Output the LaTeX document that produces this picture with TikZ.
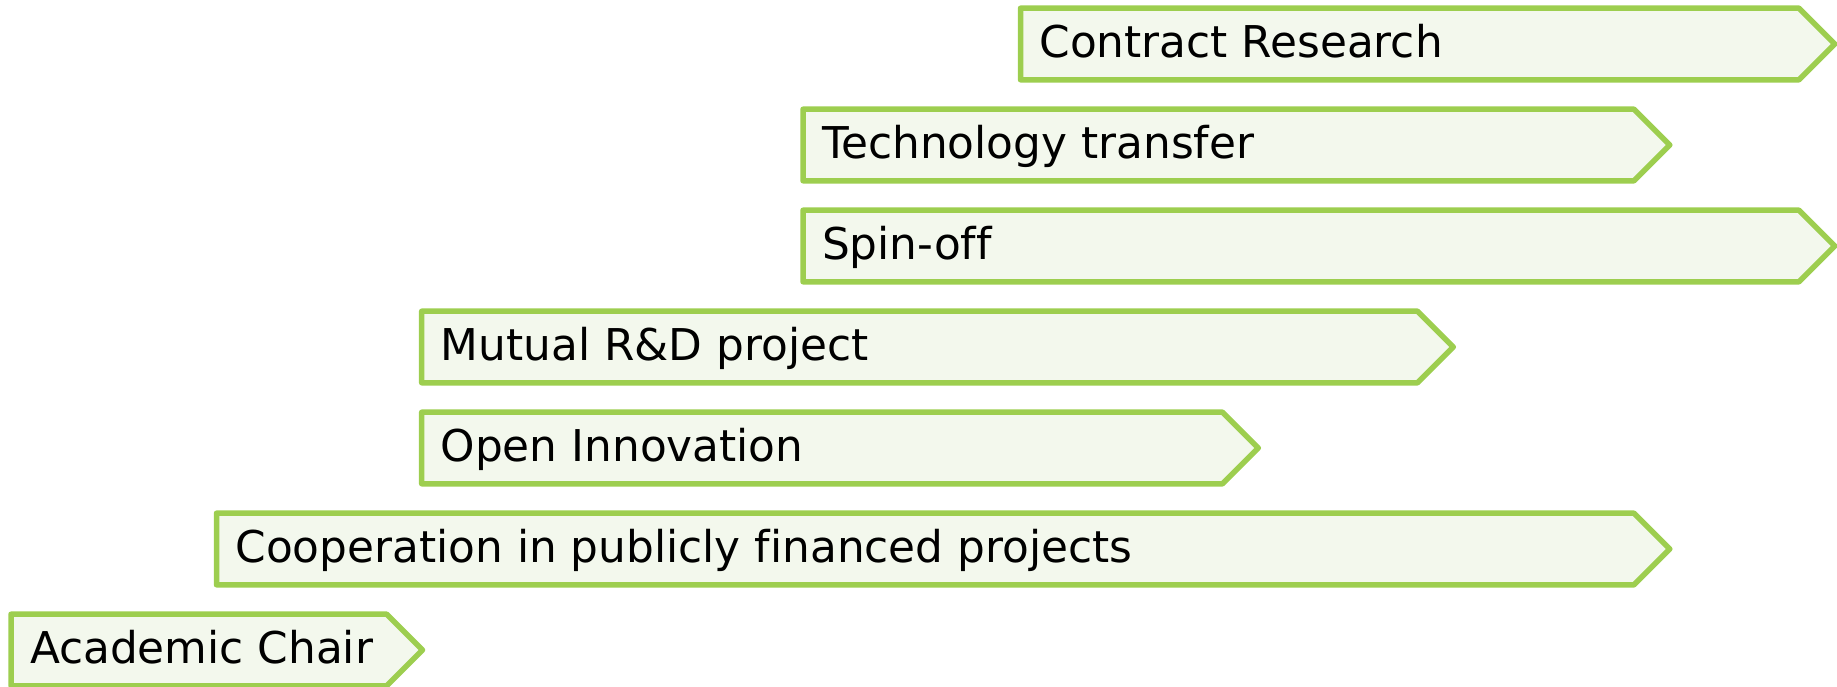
\documentclass[tikz,border=0pt]{standalone}
\usepackage{fontspec}
\setmainfont{DejaVu Sans}[Ligatures=NoCommon]
\definecolor{chevline}{RGB}{157,206,79}
\definecolor{chevfill}{RGB}{243,248,237}
\tikzset{
  chev/.style={draw=chevline, fill=chevfill, line width=5.5pt, line join=round},
  lbl/.style={inner sep=0pt, outer sep=0pt, anchor=base west,
              font=\fontsize{43.8}{50}\selectfont, text=black},
}
% \chevbox{name}{left}{top}{body right}{text}
\newcommand\chevbox[5]{%
  \filldraw[chev] (#2,#3) -- (#4,#3) -- (#4+35.8,#3+35.8)
     -- (#4,#3+71.6) -- (#2,#3+71.6) -- cycle;
  \node[lbl] (#1) at (#2+19,#3+49.3) {#5};
}
\begin{document}
\begin{tikzpicture}[x=1pt,y=-1pt]
  \useasboundingbox (0,0) rectangle (1837,687);
  \chevbox{contract}{1020.5}{8.2}{1799}{Contract Research}
  \chevbox{techtransfer}{803}{109.2}{1634}{Technology transfer}
  \chevbox{spinoff}{803}{210.2}{1799}{Spin-off}
  \chevbox{mutual}{421.7}{311.2}{1417.5}{Mutual R\&D project}
  \chevbox{openinno}{421.7}{412.2}{1222.5}{Open Innovation}
  \chevbox{coop}{216.5}{513.2}{1634}{Cooperation in publicly financed projects}
  \chevbox{chair}{11}{614.2}{386.7}{Academic Chair}
\end{tikzpicture}
\end{document}
